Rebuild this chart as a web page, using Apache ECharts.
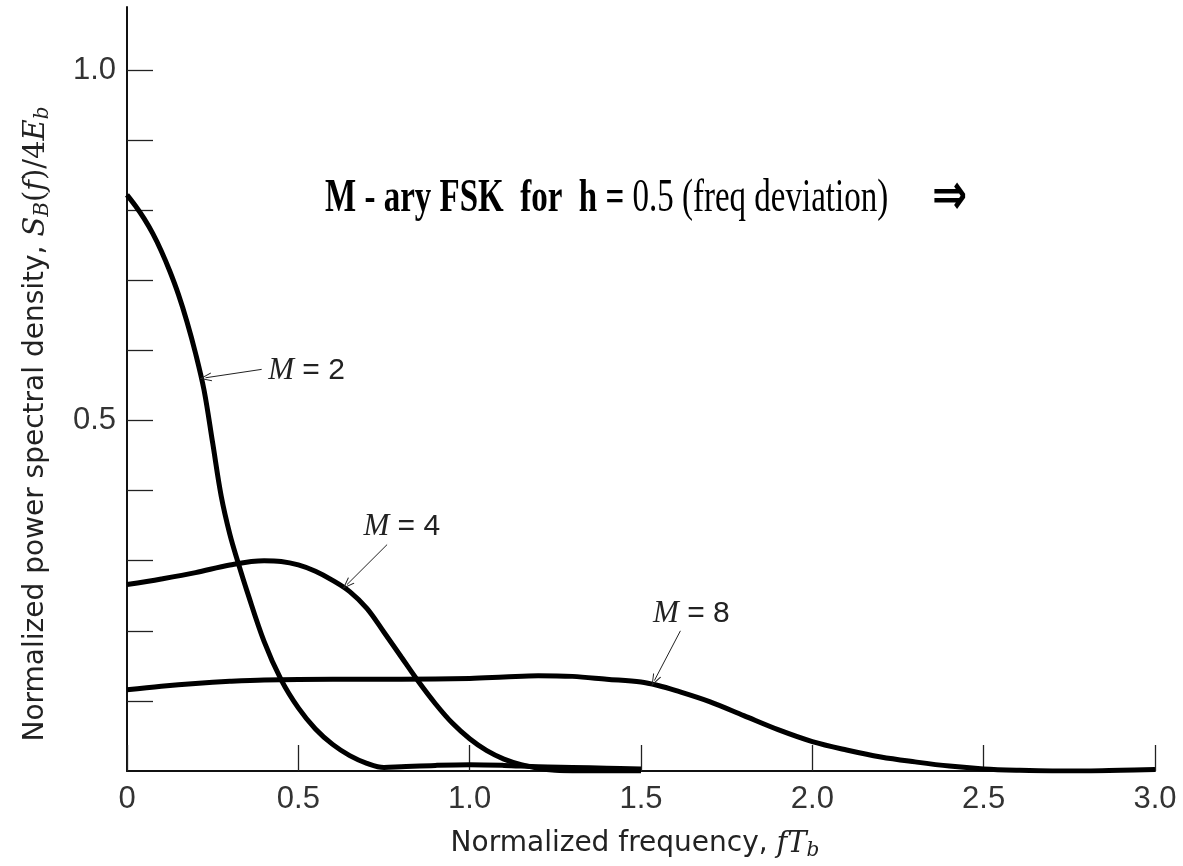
<!DOCTYPE html>
<html>
<head>
<meta charset="utf-8">
<title>M-ary FSK PSD</title>
<script src="https://cdn.jsdelivr.net/npm/echarts@6/dist/echarts.min.js"></script>
<style>
  html, body { margin: 0; padding: 0; background: #fff; }
  #chart { width: 1183px; height: 866px; }
</style>
</head>
<body>
<div id="chart"></div>
<script>
// 数据：归一化频率 fTb 与归一化功率谱密度
const freqM2 = [0, 0.025, 0.05, 0.075, 0.1, 0.125, 0.15, 0.175, 0.2, 0.225, 0.25, 0.275, 0.3, 0.325, 0.35, 0.4, 0.45, 0.5, 0.55, 0.6, 0.65, 0.7, 0.75, 0.8, 0.9, 1.0, 1.1, 1.2, 1.3, 1.4, 1.5];
const psdM2 = [0.822, 0.806, 0.788, 0.767, 0.742, 0.713, 0.680, 0.641, 0.596, 0.543, 0.468, 0.392, 0.338, 0.296, 0.257, 0.185, 0.130, 0.090, 0.060, 0.038, 0.022, 0.011, 0.005, 0.006, 0.008, 0.009, 0.008, 0.006, 0.005, 0.004, 0.003];

const freqM4 = [0, 0.1, 0.2, 0.3, 0.4, 0.45, 0.5, 0.55, 0.6, 0.65, 0.7, 0.75, 0.8, 0.85, 0.9, 0.95, 1.0, 1.05, 1.1, 1.15, 1.2, 1.25, 1.3, 1.5];
const psdM4 = [0.266, 0.274, 0.283, 0.294, 0.300, 0.299, 0.294, 0.285, 0.272, 0.256, 0.232, 0.198, 0.163, 0.128, 0.096, 0.068, 0.046, 0.029, 0.017, 0.009, 0.004, 0.001, 0, 0];

const freqM8 = [0, 0.1, 0.2, 0.3, 0.4, 0.6, 0.8, 1.0, 1.1, 1.2, 1.3, 1.4, 1.5, 1.55, 1.6, 1.7, 1.8, 1.9, 2.0, 2.1, 2.2, 2.3, 2.4, 2.5, 2.6, 2.7, 2.8, 2.9, 3.0];
const psdM8 = [0.116, 0.121, 0.125, 0.128, 0.130, 0.131, 0.131, 0.132, 0.134, 0.136, 0.135, 0.131, 0.127, 0.122, 0.115, 0.099, 0.079, 0.059, 0.042, 0.030, 0.020, 0.013, 0.007, 0.003, 0.001, 0, 0, 0.001, 0.002];

// 坐标轴刻度
const yTicks = [0.1, 0.2, 0.3, 0.4, 0.5, 0.6, 0.7, 0.8, 0.9, 1.0];
const yTickLabels = [0.5, 1.0];

const chart = echarts.init(document.getElementById('chart'));

const pair = (xs, ys) => xs.map((x, i) => [x, ys[i]]);

const mathRich = {
  t: { fontFamily: 'DejaVu Sans', fontSize: 28, color: '#222', lineHeight: 34 },
  r: { fontFamily: 'DejaVu Serif', fontSize: 29, color: '#222', lineHeight: 34 },
  m: { fontFamily: 'DejaVu Serif', fontStyle: 'italic', fontSize: 29, color: '#222', lineHeight: 34 },
  s: { fontFamily: 'DejaVu Serif', fontStyle: 'italic', fontSize: 20, color: '#222', lineHeight: 20, verticalAlign: 'bottom' }
};

const noteRich = {
  m: { fontFamily: 'Liberation Serif', fontStyle: 'italic', fontSize: 31, color: '#222' },
  t: { fontFamily: 'Liberation Sans', fontSize: 30, color: '#222' }
};

// 细线箭头头部（开口 V 形）
const openArrow = 'path://M0,10 L5,0 L10,10 L8.8,10 L5,2.2 L1.2,10 Z';

// 箭头 + 文字标注
function note(text, at, from, to) {
  return {
    markPoint: {
      silent: true,
      symbol: 'circle',
      symbolSize: 0,
      data: [{ coord: at }],
      label: {
        show: true,
        position: 'right',
        distance: 0,
        formatter: text,
        rich: noteRich
      }
    },
    markLine: {
      silent: true,
      symbol: ['none', openArrow],
      symbolSize: [9, 12],
      lineStyle: { color: '#222', width: 1, type: 'solid' },
      itemStyle: { color: '#222' },
      label: { show: false },
      data: [[{ coord: from }, { coord: to }]]
    }
  };
}

function curve(name, xs, ys, extra) {
  return Object.assign({
    name: name,
    type: 'line',
    data: pair(xs, ys),
    showSymbol: false,
    smooth: 0.35,
    lineStyle: { color: '#000', width: 5 },
    itemStyle: { color: '#000' }
  }, extra);
}

const option = {
  animation: false,
  backgroundColor: '#fff',
  grid: { left: 127, right: 28, top: 7, bottom: 95, outerBoundsMode: 'none', containLabel: false },
  xAxis: {
    type: 'value',
    min: 0,
    max: 3,
    interval: 0.5,
    name: '{t|Normalized frequency, }{m|fT}{s|b}',
    nameLocation: 'middle',
    nameGap: 56,
    nameTextStyle: { rich: mathRich, padding: [0, 12, 0, 0] },
    axisLine: { onZero: false, lineStyle: { color: '#111', width: 2 } },
    axisTick: { inside: true, length: 26, lineStyle: { color: '#222', width: 1.3 } },
    axisLabel: {
      fontFamily: 'Liberation Sans',
      fontSize: 31,
      color: '#333',
      margin: 13,
      formatter: v => (v === 0 ? '0' : v.toFixed(1))
    },
    splitLine: { show: false }
  },
  yAxis: {
    type: 'value',
    min: 0,
    max: 1.09,
    name: '{t|Normalized power spectral density, }{m|S}{s|B}{r|(}{m|f}{r|)/4}{m|E}{s|b}',
    nameLocation: 'middle',
    nameRotate: 90,
    nameGap: 74,
    nameTextStyle: { rich: mathRich, padding: [0, 70, 0, 0] },
    axisLine: { show: true, onZero: false, lineStyle: { color: '#111', width: 2 } },
    axisTick: { show: true, inside: true, length: 26, customValues: yTicks, lineStyle: { color: '#222', width: 1.3 } },
    axisLabel: {
      customValues: yTickLabels,
      fontFamily: 'Liberation Sans',
      fontSize: 31,
      color: '#333',
      margin: 11,
      formatter: v => v.toFixed(1)
    },
    splitLine: { show: false }
  },
  graphic: [{
    type: 'text',
    x: 325,
    y: 199,
    scaleY: 1.4,
    style: {
      text: '{b|M - ary FSK  for  h = }{n|0.5 (freq deviation)}{a|   ⇒}',
      verticalAlign: 'middle',
      rich: {
        b: { fontFamily: 'Liberation Serif', fontWeight: 'bold', fontSize: 33, fill: '#000' },
        n: { fontFamily: 'Liberation Serif', fontSize: 33, fill: '#000' },
        a: { fontFamily: 'DejaVu Sans', fontWeight: 'bold', fontSize: 42, fill: '#000' }
      }
    }
  }],
  series: [
    curve('M = 2', freqM2, psdM2, note('{m|M}{t| = 2}', [0.412, 0.571], [0.393, 0.573], [0.229, 0.561])),
    curve('M = 4', freqM4, psdM4, note('{m|M}{t| = 4}', [0.690, 0.349], [0.759, 0.323], [0.642, 0.266])),
    curve('M = 8', freqM8, psdM8, note('{m|M}{t| = 8}', [1.535, 0.224], [1.615, 0.200], [1.539, 0.129]))
  ]
};

chart.setOption(option);
</script>
</body>
</html>
